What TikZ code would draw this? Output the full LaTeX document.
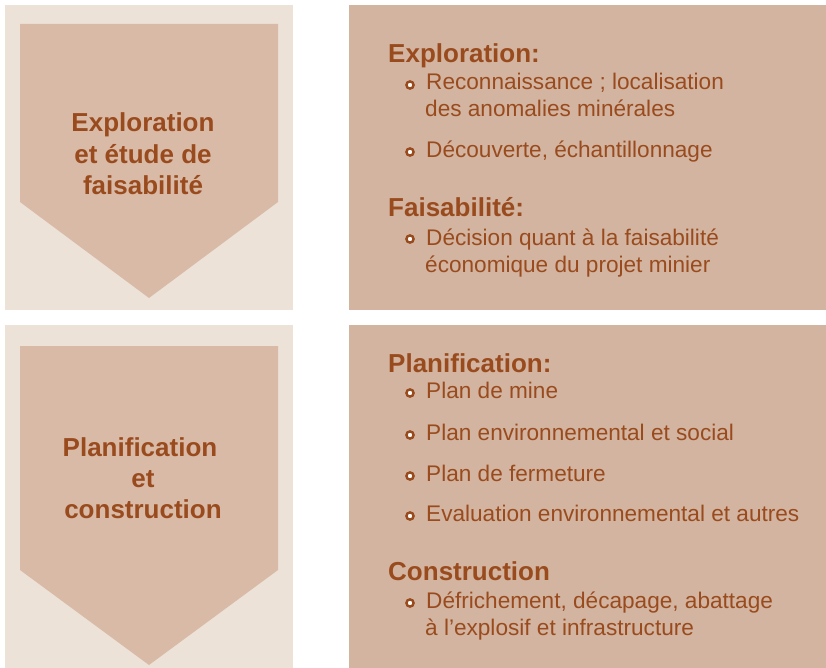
\documentclass[tikz,border=0pt]{standalone}
\usepackage{fontspec}
\setmainfont{Liberation Sans}
\usepackage{tikz}
\usetikzlibrary{positioning}

\definecolor{fondclair}{HTML}{EDE2D8}
\definecolor{chevron}{HTML}{D9BAA7}
\definecolor{fondbloc}{HTML}{D2B4A0}
\definecolor{brun}{HTML}{9A4B1E}

\tikzset{
  titre/.style={text=brun, font=\fontsize{26}{31}\selectfont\bfseries, inner sep=0pt},
  ligne/.style={text=brun, font=\fontsize{22.6}{27}\selectfont, inner sep=0pt, anchor=base west},
  puce/.style={draw=brun, fill=white, line width=2.4pt}
}

\begin{document}
\begin{tikzpicture}[x=1pt,y=-1pt]
\useasboundingbox (0,0) rectangle (826,668);

% Etape 1
\fill[fondclair] (5,5) rectangle (293,310);
\fill[chevron] (20,24) -- (278,24) -- (278,202) -- (149,298) -- (20,202) -- cycle;
\node[titre, anchor=base] (e1a) at (143,132) {Exploration};
\node[titre, anchor=base] (e1b) at (143,164) {et étude de};
\node[titre, anchor=base] (e1c) at (143,195) {faisabilité};

\fill[fondbloc] (349,5) rectangle (826,310);
\node[titre, anchor=base west] (h1) at (388,63) {Exploration:};
\draw[puce] (410,85) circle (3.6pt);
\node[ligne] (l1) at (426,90) {Reconnaissance ; localisation};
\node[ligne] (l2) at (425,117) {des anomalies minérales};
\draw[puce] (410,152) circle (3.6pt);
\node[ligne] (l3) at (426,158) {Découverte, échantillonnage};
\node[titre, anchor=base west] (h2) at (388,217) {Faisabilité:};
\draw[puce] (410,239) circle (3.6pt);
\node[ligne] (l4) at (426,245) {Décision quant à la faisabilité};
\node[ligne] (l5) at (425,272) {économique du projet minier};

% Etape 2
\fill[fondclair] (5,325) rectangle (293,668);
\fill[chevron] (20,346) -- (278,346) -- (278,570) -- (149,665) -- (20,570) -- cycle;
\node[titre, anchor=base] (e2a) at (140,456) {Planification};
\node[titre, anchor=base] (e2b) at (143,487) {et};
\node[titre, anchor=base] (e2c) at (143,518) {construction};

\fill[fondbloc] (349,325) rectangle (826,668);
\node[titre, anchor=base west] (h3) at (388,372) {Planification:};
\foreach \y/\txt [count=\i] in {398/{Plan de mine}, 440/{Plan environnemental et social},
    481/{Plan de fermeture}, 521/{Evaluation environnemental et autres}} {
  \draw[puce] (410,\y-5) circle (3.6pt);
  \node[ligne] (p\i) at (426,\y) {\txt};
}
\node[titre, anchor=base west] (h4) at (388,580) {Construction};
\draw[puce] (410,603) circle (3.6pt);
\node[ligne] (c1) at (426,608) {Défrichement, décapage, abattage};
\node[ligne] (c2) at (425,635) {à l’explosif et infrastructure};
\end{tikzpicture}
\end{document}
